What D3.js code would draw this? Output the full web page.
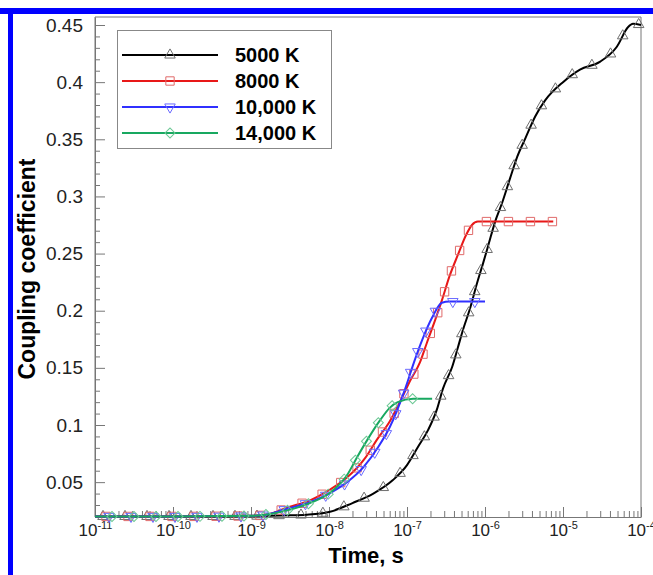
<!DOCTYPE html>
<html>
<head>
<meta charset="utf-8">
<script src="https://cdn.jsdelivr.net/npm/d3@7"></script>
<style>
  body { margin: 0; background: #fff; }
  text { font-family: "Liberation Sans", Arial, sans-serif; }
</style>
</head>
<body>
<div id="chart"></div>
<script>
// chart values
var seriesNames = ["5000 K", "8000 K", "10,000 K", "14,000 K"];

var t5000 = [1e-11, 3e-11, 1e-10, 3e-10, 1e-9, 3.2e-9, 5.2e-9, 1e-8, 2e-8, 3.7e-8, 6.6e-8, 1e-7,
  1.38e-7, 1.86e-7, 2.4e-7, 2.9e-7, 3.8e-7, 4.5e-7, 5.1e-7, 6.5e-7, 7.9e-7, 9.4e-7, 1.1e-6,
  1.35e-6, 1.65e-6, 2.1e-6, 2.6e-6, 3.3e-6, 4.4e-6, 5.9e-6, 1e-5, 1.65e-5, 3e-5, 4.9e-5, 6.8e-5, 7.9e-5, 1e-4];
var v5000 = [0.02, 0.02, 0.02, 0.02, 0.0202, 0.021, 0.0215, 0.0238, 0.0317, 0.040, 0.0518, 0.0649,
  0.0807, 0.0955, 0.113, 0.132, 0.151, 0.168, 0.181, 0.203, 0.224, 0.241, 0.257,
  0.278, 0.294, 0.316, 0.335, 0.351, 0.370, 0.384, 0.400, 0.411, 0.418, 0.431, 0.448, 0.451, 0.450];

var t8000 = [1e-11, 1e-10, 1e-9, 1.7e-9, 3e-9, 5.7e-9, 1e-8, 1.7e-8, 2.9e-8, 4.1e-8, 6e-8, 8.1e-8,
  1.1e-7, 1.47e-7, 1.8e-7, 2.3e-7, 2.8e-7, 3.5e-7, 4.5e-7, 5.7e-7, 6.8e-7, 8.1e-7, 7.5e-6];
var v8000 = [0.02, 0.02, 0.0205, 0.022, 0.028, 0.034, 0.043, 0.054, 0.071, 0.087, 0.103, 0.120,
  0.139, 0.155, 0.172, 0.192, 0.209, 0.230, 0.249, 0.266, 0.275, 0.278, 0.278];

var t10000 = [1e-11, 1e-10, 1e-9, 1.7e-9, 3e-9, 5.7e-9, 1e-8, 1.7e-8, 2.75e-8, 4.3e-8, 6e-8, 9.4e-8,
  1.26e-7, 1.6e-7, 2.1e-7, 2.8e-7, 3.5e-7, 1e-6];
var v10000 = [0.02, 0.02, 0.0205, 0.022, 0.027, 0.0325, 0.040, 0.050, 0.063, 0.081, 0.098, 0.131,
  0.157, 0.176, 0.194, 0.207, 0.208, 0.208];

var t14000 = [1e-11, 1e-10, 1e-9, 1.7e-9, 3e-9, 5.7e-9, 1e-8, 1.7e-8, 2.3e-8, 3.1e-8, 4.5e-8, 6e-8,
  7.6e-8, 1.2e-7, 2.1e-7];
var v14000 = [0.02, 0.02, 0.0205, 0.022, 0.0255, 0.0317, 0.040, 0.056, 0.072, 0.087, 0.104, 0.115,
  0.120, 0.123, 0.123];

var yTicks = [0.05, 0.1, 0.15, 0.2, 0.25, 0.3, 0.35, 0.4, 0.45];
var xExponents = [-11, -10, -9, -8, -7, -6, -5, -4];

// set the dimensions and margins of the graph
var W = 653, H = 575;
var margin = {top: 17, right: 12, bottom: 58, left: 95},
    width = W - margin.left - margin.right,
    height = H - margin.top - margin.bottom;

var svg = d3.select("#chart")
  .append("svg")
    .attr("width", W)
    .attr("height", H);

var g = svg.append("g")
    .attr("transform", "translate(" + margin.left + "," + margin.top + ")");

var x = d3.scaleLog().domain([1e-11, 1e-4]).range([0, width]);
var y = d3.scaleLinear().domain([0.0195, 0.457]).range([height, 0]);

var axisColor = "#777";

// X axis - major ticks inward
var xMajor = xExponents.map(function(e) { return Math.pow(10, e); });
var xMinor = [];
xExponents.slice(0, -1).forEach(function(e) {
  for (var k = 2; k <= 9; k++) xMinor.push(k * Math.pow(10, e));
});

var xAx = g.append("g")
  .attr("transform", "translate(0," + height + ")")
  .call(d3.axisBottom(x).tickValues(xMajor).tickSizeInner(-10).tickSizeOuter(0).tickFormat(""));
g.append("g")
  .attr("transform", "translate(0," + height + ")")
  .call(d3.axisBottom(x).tickValues(xMinor).tickSizeInner(-6).tickSizeOuter(0).tickFormat(""))
  .call(function(s) { s.select(".domain").remove(); });

xAx.selectAll(".tick").append("text")
  .attr("y", 19)
  .attr("fill", "#222")
  .attr("text-anchor", "middle")
  .style("font-size", "17px")
  .each(function(d) {
    var t = d3.select(this);
    t.append("tspan").text("10");
    t.append("tspan").attr("dy", -7).style("font-size", "11px").text(Math.round(Math.log10(d)));
  });

// Y axis - major and minor ticks inward
var yMinor = d3.range(2, 46).map(function(i) { return i / 100; })
  .filter(function(v) { return Math.round(v * 100) % 5 !== 0; });

var yAx = g.append("g")
  .call(d3.axisLeft(y).tickValues(yTicks).tickSizeInner(-10).tickSizeOuter(0)
    .tickPadding(12).tickFormat(d3.format("")));
g.append("g")
  .call(d3.axisLeft(y).tickValues(yMinor).tickSizeInner(-5).tickSizeOuter(0).tickFormat(""))
  .call(function(s) { s.select(".domain").remove(); });

yAx.selectAll("text")
  .attr("fill", "#222")
  .style("font-size", "19px");

g.selectAll(".domain, .tick line").attr("stroke", axisColor);

// frame top and right
g.append("line").attr("x1", 0).attr("x2", width).attr("y1", 0).attr("y2", 0).attr("stroke", axisColor);
g.append("line").attr("x1", width).attr("x2", width).attr("y1", 0).attr("y2", height).attr("stroke", axisColor);
g.append("line").attr("x1", 0).attr("x2", 0).attr("y1", 0).attr("y2", height).attr("stroke", axisColor);

// axis names
svg.append("text")
  .attr("x", margin.left + width / 2 - 2)
  .attr("y", 563)
  .attr("text-anchor", "middle")
  .style("font-size", "22px")
  .style("font-weight", "bold")
  .text("Time, s");

svg.append("text")
  .attr("transform", "translate(35," + (margin.top + 252) + ") rotate(-90)")
  .attr("text-anchor", "middle")
  .style("font-size", "23px")
  .style("font-weight", "bold")
  .text("Coupling coefficient");

// series
var series = [
  {name: seriesNames[0], t: t5000, v: v5000, color: "#000000", mark: "#6e6e6e", sym: d3.symbolTriangle, rot: 0, size: 48},
  {name: seriesNames[1], t: t8000, v: v8000, color: "#e81818", mark: "#e06a6a", sym: d3.symbolSquare, rot: 0, size: 70},
  {name: seriesNames[2], t: t10000, v: v10000, color: "#3030ff", mark: "#6a6aff", sym: d3.symbolTriangle, rot: 180, size: 48},
  {name: seriesNames[3], t: t14000, v: v14000, color: "#18a860", mark: "#6cc894", sym: d3.symbolSquare, rot: 45, size: 50}
];

var line = d3.line()
  .x(function(d) { return x(d[0]); })
  .y(function(d) { return y(d[1]); })
  .curve(d3.curveMonotoneX);

series.forEach(function(s, i) {
  var pts = s.t.map(function(t, j) { return [t, s.v[j]]; });
  var path = g.append("path")
    .datum(pts)
    .attr("fill", "none")
    .attr("stroke", s.color)
    .attr("stroke-width", 2)
    .attr("d", line);

  // Tecplot-like symbols spaced by distance along the line
  var node = path.node(), L = node.getTotalLength();
  var marks = [];
  for (var l = 8 + i * 3; l <= L; l += 22) marks.push(node.getPointAtLength(l));
  g.selectAll(".m" + i)
    .data(marks)
    .enter()
    .append("path")
      .attr("d", d3.symbol().type(s.sym).size(s.size))
      .attr("transform", function(p) { return "translate(" + p.x + "," + p.y + ") rotate(" + s.rot + ")"; })
      .attr("fill", "none")
      .attr("stroke", s.mark)
      .attr("stroke-width", 1);
});

// blue frame round the figure, top and left only
svg.append("rect").attr("x", 0).attr("y", 8).attr("width", W).attr("height", 6).attr("fill", "#0000ff");
svg.append("rect").attr("x", 8).attr("y", 8).attr("width", 5).attr("height", H - 8).attr("fill", "#0000ff");

// legend
var leg = svg.append("g");
leg.append("rect")
  .attr("x", 117.5).attr("y", 30.5).attr("width", 214).attr("height", 118)
  .attr("fill", "#fff").attr("stroke", "#888");

series.forEach(function(s, i) {
  var ly = 55 + i * 26;
  leg.append("line")
    .attr("x1", 122).attr("x2", 218).attr("y1", ly).attr("y2", ly)
    .attr("stroke", s.color).attr("stroke-width", 2);
  leg.append("path")
    .attr("d", d3.symbol().type(s.sym).size(s.size))
    .attr("transform", "translate(170," + ly + ") rotate(" + s.rot + ")")
    .attr("fill", "none").attr("stroke", s.mark);
  leg.append("text")
    .attr("x", 235).attr("y", ly + 7)
    .style("font-size", "20px")
    .style("font-weight", "bold")
    .text(s.name);
});
</script>
</body>
</html>
